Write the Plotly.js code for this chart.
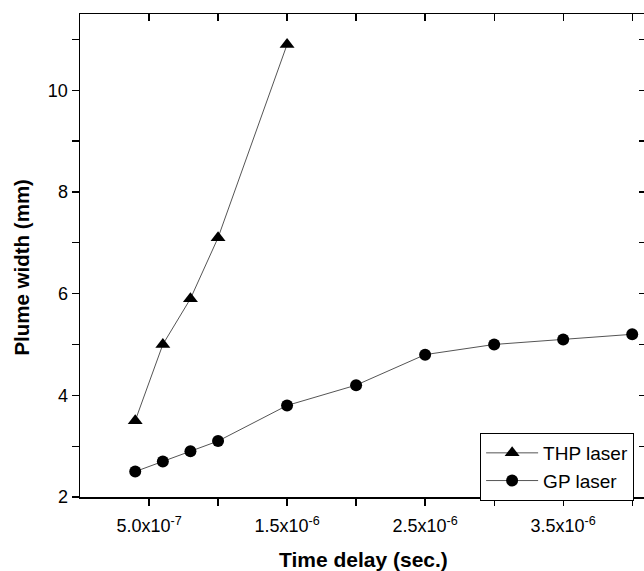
<!DOCTYPE html>
<html>
<head>
<meta charset="utf-8">
<script src="https://cdn.plot.ly/plotly-3.0.1.min.js"></script>
<style>
html,body{margin:0;padding:0;overflow:hidden;background:#fff;}
#chart{width:647px;height:571px;}
</style>
</head>
<body>
<div id="chart"></div>
<script>
// Data
var thpTime = [4e-7, 6e-7, 8e-7, 1e-6, 1.5e-6];
var thpWidth = [3.5, 5.0, 5.9, 7.1, 10.9];
var gpTime = [4e-7, 6e-7, 8e-7, 1e-6, 1.5e-6, 2e-6, 2.5e-6, 3e-6, 3.5e-6, 4e-6];
var gpWidth = [2.5, 2.7, 2.9, 3.1, 3.8, 4.2, 4.8, 5.0, 5.1, 5.2];

var xTickVals = [5e-7, 1.5e-6, 2.5e-6, 3.5e-6];
var xTickText = ['5.0x10<sup>-7</sup>', '1.5x10<sup>-6</sup>', '2.5x10<sup>-6</sup>', '3.5x10<sup>-6</sup>'];
var xMinorVals = [1e-6, 2e-6, 3e-6, 4e-6];
var yTickVals = [2, 4, 6, 8, 10];
var yTickText = ['2', '4', '6', '8', '10'];
var yMinorVals = [3, 5, 7, 9, 11];
var xTitle = 'Time delay (sec.)';
var yTitle = 'Plume width (mm)';

var FAM = 'Liberation Sans, Arial, sans-serif';
var lineStyle = {color: '#555555', width: 1};
var traces = [
  {x: thpTime, y: thpWidth, name: 'THP laser', mode: 'lines+markers', type: 'scatter',
   line: lineStyle, marker: {symbol: 'triangle-up', size: 13, color: '#000'}},
  {x: gpTime, y: gpWidth, name: 'GP laser', mode: 'lines+markers', type: 'scatter',
   line: lineStyle, marker: {symbol: 'circle', size: 12, color: '#000'}},
  {x: [null], y: [null], xaxis: 'x2', yaxis: 'y2', showlegend: false, hoverinfo: 'skip', mode: 'markers'}
];

var tickStyle = {ticklen: 7, tickwidth: 1.3, tickcolor: '#000'};
function minor(vals, dir) {
  return {tickmode: 'array', tickvals: vals, ticks: dir, ticklen: 7, tickwidth: 1.3, tickcolor: '#000', showgrid: false};
}

var layout = {
  width: 647, height: 571,
  margin: {l: 80, r: 1, t: 14, b: 74},
  paper_bgcolor: '#ffffff', plot_bgcolor: '#ffffff',
  font: {family: FAM, color: '#000'},
  showlegend: true,
  legend: {x: 0.979, y: 0.1325, xanchor: 'right', yanchor: 'top',
    bordercolor: '#000', borderwidth: 1, bgcolor: '#fff',
    font: {family: FAM, size: 19, color: '#000'},
    itemwidth: 52, tracegroupgap: 0},
  annotations: [
    {text: '<b>' + xTitle + '</b>', xref: 'paper', yref: 'paper',
     x: 0.5, y: -0.130, xanchor: 'center', yanchor: 'middle', showarrow: false,
     font: {size: 21, family: FAM, color: '#000'}},
    {text: '<b>' + yTitle + '</b>', xref: 'paper', yref: 'paper', textangle: -90,
     x: -0.1025, y: 0.477, xanchor: 'center', yanchor: 'middle', showarrow: false,
     font: {size: 20.5, family: FAM, color: '#000'}}
  ],
  xaxis: Object.assign({range: [0, 4.1e-6], showline: true, linecolor: '#000', linewidth: 1.5,
    ticks: 'outside', tickmode: 'array', tickvals: xTickVals, ticktext: xTickText,
    tickfont: {size: 18}, ticklabelstandoff: 5, minor: minor(xMinorVals, 'outside'),
    showgrid: false, zeroline: false}, tickStyle),
  yaxis: Object.assign({range: [2, 11.5], showline: true, linecolor: '#000', linewidth: 1.5,
    ticks: 'outside', tickmode: 'array', tickvals: yTickVals, ticktext: yTickText,
    tickfont: {size: 18}, minor: minor(yMinorVals, 'outside'),
    showgrid: false, zeroline: false}, tickStyle),
  xaxis2: Object.assign({overlaying: 'x', matches: 'x', side: 'top', anchor: 'y2', range: [0, 4.1e-6],
    showline: true, linecolor: '#000', linewidth: 1.5,
    ticks: 'inside', tickmode: 'array', tickvals: xTickVals, minor: minor(xMinorVals, 'inside'),
    showticklabels: false, showgrid: false, zeroline: false}, tickStyle),
  yaxis2: Object.assign({overlaying: 'y', side: 'right', anchor: 'x2', range: [2, 11.5],
    showline: true, linecolor: '#000', linewidth: 1.5,
    ticks: 'inside', tickmode: 'array', tickvals: yTickVals, minor: minor(yMinorVals, 'inside'),
    showticklabels: false, showgrid: false, zeroline: false}, tickStyle)
};

Plotly.newPlot('chart', traces, layout, {displayModeBar: false, staticPlot: true});
</script>
</body>
</html>
